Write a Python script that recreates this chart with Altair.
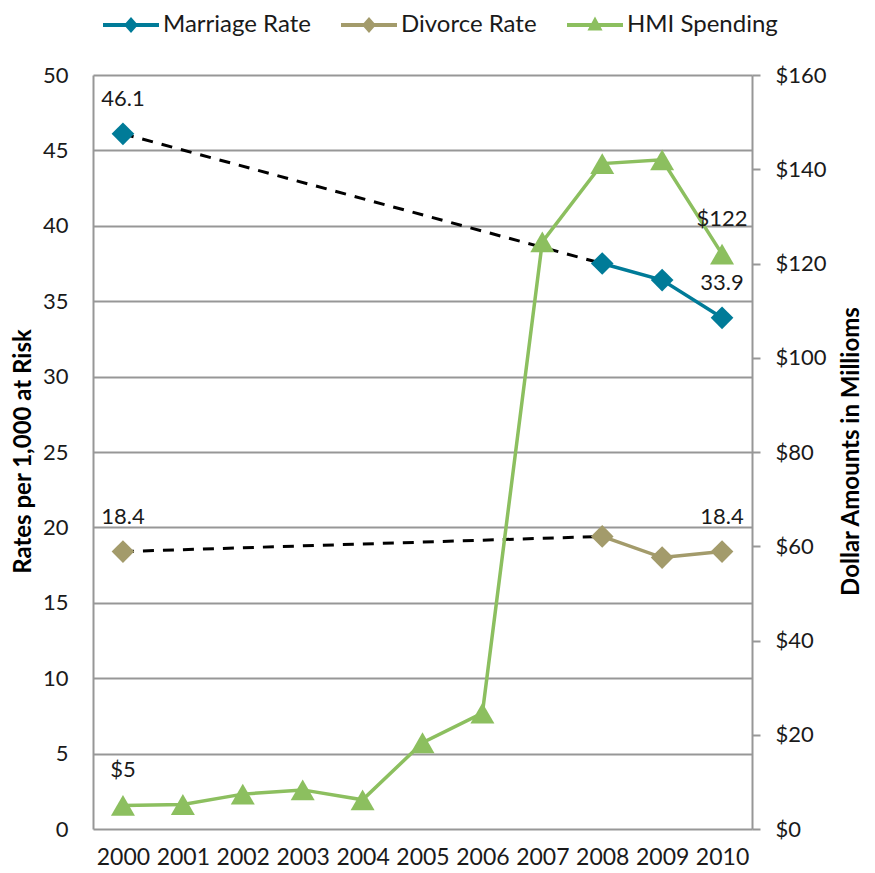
import altair as alt
import pandas as pd

# ---------------- data ----------------
years = list(range(2000, 2011))
hmi_spending = [5, 5.2, 7.4, 8.3, 6.2, 18.3, 24.6, 124.6, 141.2, 142.0, 122]
rate_years = [2000, 2008, 2009, 2010]
marriage_rate = [46.1, 37.5, 36.4, 33.9]
divorce_rate = [18.4, 19.4, 18.0, 18.4]
series_names = ["Marriage Rate", "Divorce Rate", "HMI Spending"]
series_colors = ["#007B98", "#A39B6B", "#8CBF5F"]
left_ticks = list(range(0, 51, 5))
right_ticks = list(range(0, 161, 20))

rates = pd.DataFrame({
    "year": rate_years * 2,
    "value": marriage_rate + divorce_rate,
    "series": ["Marriage Rate"] * len(rate_years) + ["Divorce Rate"] * len(rate_years),
})
hmi = pd.DataFrame({"year": years, "spend": hmi_spending,
                    "series": ["HMI Spending"] * len(years)})

# ---------------- style ----------------
FONT = "Lato"
TXT = "#1A1A1A"
GRID = "#979797"
# legend glyphs: a line segment with the series marker in the middle
LEG_DIAMOND = "M-2,-0.14L2,-0.14L2,0.14L-2,0.14Z M0,-0.57L0.5,0L0,0.57L-0.5,0Z"
LEG_TRIANGLE = "M-2,-0.14L2,-0.14L2,0.14L-2,0.14Z M0,-0.6L0.54,0.4L-0.54,0.4Z"

color_scale = alt.Scale(domain=series_names, range=series_colors)

x_enc = alt.X(
    "year:Q",
    scale=alt.Scale(domain=[1999.5, 2010.5], nice=False, zero=False),
    axis=alt.Axis(values=years, format="d", grid=False, ticks=False, domain=False,
                  labelFontSize=23, labelPadding=17, labelColor=TXT, title=None,
                  labelFlush=False, labelOverlap=False),
)

y_left = alt.Y(
    "value:Q",
    scale=alt.Scale(domain=[0, 50], nice=False, zero=True),
    axis=alt.Axis(values=left_ticks, grid=True, gridColor=GRID, gridWidth=2,
                  ticks=False, domain=True, domainColor=GRID, domainWidth=2,
                  labelFontSize=22, labelPadding=25, labelColor=TXT,
                  title="Rates per 1,000 at Risk", titleFontSize=24,
                  titleFontWeight="bold", titleColor="#000000",
                  titleX=-70, titleY=376, titleAngle=270, titleBaseline="middle",
                  titleAlign="center"),
)

y_right = alt.Y(
    "spend:Q",
    scale=alt.Scale(domain=[0, 160], nice=False, zero=True),
    axis=alt.Axis(orient="right", values=right_ticks, grid=False,
                  ticks=True, tickSize=8, tickWidth=2, tickColor=GRID,
                  domain=True, domainColor=GRID, domainWidth=2,
                  labelFontSize=22, labelPadding=15, labelColor=TXT,
                  labelExpr="'$' + datum.value",
                  title="Dollar Amounts in Millioms", titleFontSize=24,
                  titleFontWeight="bold", titleColor="#000000",
                  titleX=99, titleY=376, titleAngle=270, titleBaseline="middle",
                  titleAlign="center"),
)

color_plain = alt.Color("series:N", scale=color_scale)

# ---------------- left (rates) layers ----------------
left_base = alt.Chart(rates)

dashed = left_base.mark_line(color="#000000", strokeWidth=3, strokeDash=[11, 9]).encode(
    x=x_enc, y=y_left, detail="series:N"
).transform_filter("datum.year <= 2008")

solid = left_base.mark_line(strokeWidth=3.5).encode(
    x=x_enc, y=y_left, color=color_plain
).transform_filter("datum.year >= 2008")

diamonds = left_base.mark_point(filled=True, shape="diamond", size=515, opacity=1).encode(
    x=x_enc, y=y_left, color=color_plain
)

legend_carrier = left_base.mark_point(filled=True, opacity=0).encode(
    x=x_enc, y=y_left,
    color=alt.Color("series:N", scale=color_scale,
                    legend=alt.Legend(orient="none", legendX=24, legendY=-64,
                                      direction="horizontal", title=None,
                                      symbolSize=784, symbolOpacity=1,
                                      symbolStrokeWidth=0,
                                      labelFontSize=24, labelColor=TXT, labelFont=FONT,
                                      labelOffset=18, columnPadding=30, padding=0,
                                      labelLimit=400)),
    shape=alt.Shape("series:N",
                    scale=alt.Scale(domain=series_names,
                                    range=[LEG_DIAMOND, LEG_DIAMOND, LEG_TRIANGLE])),
).transform_filter("datum.year == 2000")

rate_labels = left_base.mark_text(fontSize=22, color=TXT, dy=-35, baseline="middle",
                                  align="center", font=FONT).encode(
    x=x_enc, y=y_left, text=alt.Text("value:Q", format=".1f")
).transform_filter("datum.year == 2000 || datum.year == 2010")

left = alt.layer(dashed, solid, diamonds, legend_carrier, rate_labels)

# ---------------- right (spending) layers ----------------
right_base = alt.Chart(hmi)

hmi_line = right_base.mark_line(strokeWidth=3.5).encode(
    x=x_enc, y=y_right, color=color_plain
)
hmi_points = right_base.mark_point(filled=True, shape="triangle-up", size=576, opacity=1).encode(
    x=x_enc, y=y_right, color=color_plain
)
hmi_labels = right_base.mark_text(fontSize=22, color=TXT, dy=-35, baseline="middle",
                                  align="center", font=FONT).encode(
    x=x_enc, y=y_right, text="label:N"
).transform_filter("datum.year == 2000 || datum.year == 2010").transform_calculate(
    label="'$' + format(datum.spend, ',.0f')"
)

right = alt.layer(hmi_line, hmi_points, hmi_labels)

chart = alt.layer(left, right).resolve_scale(y="independent").properties(
    width=659, height=754,
    autosize=alt.AutoSizeParams(type="none"),
    padding={"left": 85, "top": 67, "right": 115, "bottom": 44},
).configure(font=FONT).configure_view(stroke="transparent")

chart.save("out.html", embed_options={"renderer": "svg", "actions": False})
